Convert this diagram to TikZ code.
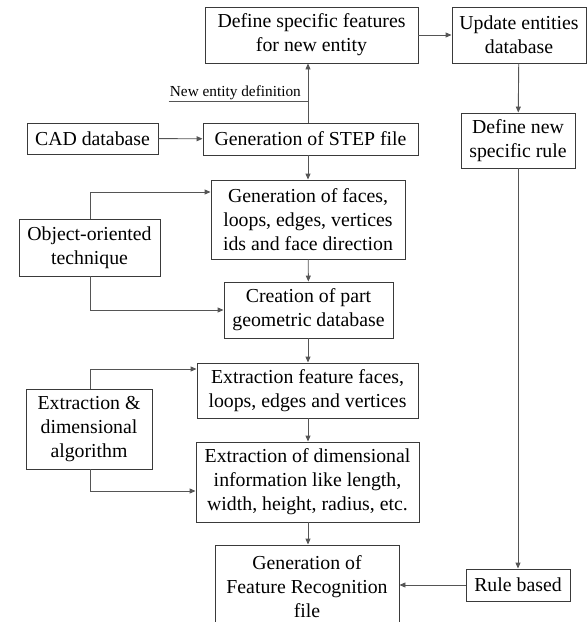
\documentclass[tikz,border=0pt]{standalone}
\usepackage{fontspec}
\setmainfont{Liberation Serif}
\usepackage{xcolor}
\usepackage{tikz}
\usetikzlibrary{arrows.meta,positioning,calc}
\definecolor{frline}{HTML}{3A3A3A}
\definecolor{frlink}{HTML}{555555}
\tikzset{
    frbox/.style={rectangle, draw=frline, line width=0.9pt, fill=white,
        align=center, inner sep=0pt,
        font=\fontsize{19.8}{24}\selectfont},
    frarrow/.style={-{Triangle[length=6pt,width=5pt]}, line width=0.9pt, color=frlink},
    frline/.style={line width=0.9pt, color=frlink},
    frlabel/.style={font=\fontsize{15.3}{17}\selectfont, inner sep=1pt},
}
\begin{document}
\begin{tikzpicture}[x=1pt, y=-1pt]
    \useasboundingbox (0,0) rectangle (587,622);

    % ── Top row ────────────────────────────────────────────────────────────
    \node[frbox, minimum width=213pt, minimum height=56pt] (define) at (311.5,35)
        {Define specific features\\for new entity};
    \node[frbox, minimum width=134pt, minimum height=56pt] (update) at (519,35)
        {Update entities\\database};

    % ── Input ──────────────────────────────────────────────────────────────
    \node[frbox, minimum width=131pt, minimum height=31pt] (cad) at (92.5,138.5)
        {CAD database};
    \node[frbox, minimum width=215pt, minimum height=32pt] (step) at (310.5,139)
        {Generation of STEP file};
    \node[frlabel, anchor=south east] (newent) at (302,101)
        {New entity definition};

    % ── Rule branch ────────────────────────────────────────────────────────
    \node[frbox, minimum width=114pt, minimum height=55pt] (newrule) at (518,140.5)
        {Define new\\specific rule};
    \node[frbox, minimum width=104pt, minimum height=32pt] (rulebased) at (518,585)
        {Rule based};

    % ── Geometry chain ─────────────────────────────────────────────────────
    \node[frbox, minimum width=194pt, minimum height=79pt] (faces) at (308,219.5)
        {Generation of faces,\\loops, edges, vertices\\ids and face direction};
    \node[frbox, minimum width=169pt, minimum height=56pt] (creation) at (308.5,310)
        {Creation of part\\geometric database};
    \node[frbox, minimum width=221pt, minimum height=55pt] (extfaces) at (307.5,390.5)
        {Extraction feature faces,\\loops, edges and vertices};
    \node[frbox, minimum width=223pt, minimum height=80pt] (diminfo) at (307.5,482)
        {Extraction of dimensional\\information like length,\\width, height, radius, etc.};
    \node[frbox, minimum width=184pt, minimum height=84pt] (genfr) at (307,587)
        {Generation of\\Feature Recognition\\file};

    % ── Side techniques ────────────────────────────────────────────────────
    \node[frbox, minimum width=141pt, minimum height=57pt] (oot) at (89.5,247.5)
        {Object-oriented\\technique};
    \node[frbox, minimum width=126pt, minimum height=80pt] (eda) at (89,429)
        {Extraction \&\\dimensional\\algorithm};

    % ── Arrows ─────────────────────────────────────────────────────────────
    \draw[frarrow] (define) -- (update);
    \draw[frarrow] (cad) -- (step);
    \draw[frarrow] (step.north -| 308,0) -- (define.south -| 308,0);
    \draw[frline]  (newent.south west) -- (newent.south west -| 308,0);
    \draw[frarrow] (step.south -| 308,0) -- (faces.north -| 308,0);
    \draw[frarrow] (faces) -- (creation);
    \draw[frarrow] (creation.south -| 308,0) -- (extfaces.north -| 308,0);
    \draw[frarrow] (extfaces.south -| 308,0) -- (diminfo.north -| 308,0);
    \draw[frarrow] (diminfo.south -| 308,0) -- (genfr.north -| 308,0);
    \draw[frarrow] (update) -- (newrule);
    \draw[frarrow] (newrule) -- (rulebased);
    \draw[frarrow] (rulebased.west) -- (rulebased.west -| genfr.east);

    \draw[frarrow] (oot.north -| 90,0) |- (faces.west |- 0,192);
    \draw[frarrow] (oot.south -| 90,0) |- (creation);
    \draw[frarrow] (eda.north -| 90,0) |- (extfaces.west |- 0,369);
    \draw[frarrow] (eda.south -| 90,0) |- (diminfo.west |- 0,491);

\end{tikzpicture}
\end{document}
